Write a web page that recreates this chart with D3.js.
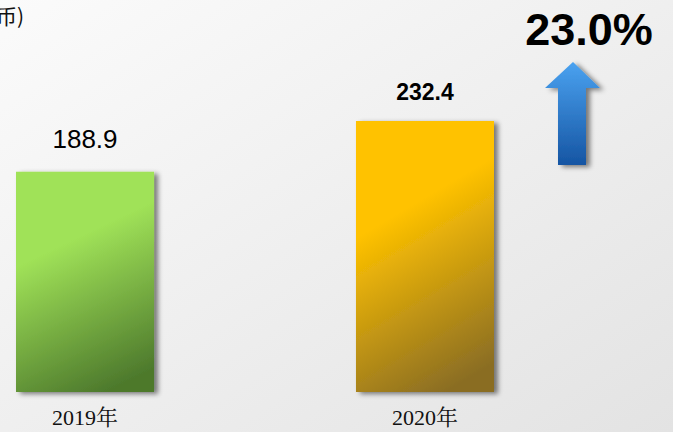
<!DOCTYPE html>
<html>
<head>
<meta charset="utf-8">
<script src="https://cdn.jsdelivr.net/npm/d3@7"></script>
<style>
  body { margin: 0; overflow: hidden; }
  svg { display: block; }
</style>
</head>
<body>
<div id="chart"></div>
<script>
const years = ["2019年", "2020年"];
const values = [188.9, 232.4];
const valueLabels = ["188.9", "232.4"];
const growth = "23.0%";
const unitLabel = "(单位：亿元人民币)";

const width = 673, height = 432;

const svg = d3.select("#chart").append("svg")
  .attr("width", width)
  .attr("height", height);

const defs = svg.append("defs");

const bg = defs.append("linearGradient").attr("id", "bg")
  .attr("x1", "0%").attr("y1", "0%").attr("x2", "100%").attr("y2", "100%");
bg.append("stop").attr("offset", "0%").attr("stop-color", "#fbfbfb");
bg.append("stop").attr("offset", "100%").attr("stop-color", "#e3e3e3");

const barColors = [["#a0e258", "#4d792c"], ["#ffc200", "#8a6d24"]];
barColors.forEach((c, i) => {
  const g = defs.append("linearGradient").attr("id", "bar" + i)
    .attr("x1", "35%").attr("y1", "0%").attr("x2", "65%").attr("y2", "100%");
  g.append("stop").attr("offset", "0%").attr("stop-color", c[0]);
  g.append("stop").attr("offset", "30%").attr("stop-color", c[0]);
  g.append("stop").attr("offset", "100%").attr("stop-color", c[1]);
});

const arrowGrad = defs.append("linearGradient").attr("id", "arrow")
  .attr("x1", "0").attr("y1", "0").attr("x2", "0").attr("y2", "1");
arrowGrad.append("stop").attr("offset", "0%").attr("stop-color", "#4aa2f0");
arrowGrad.append("stop").attr("offset", "100%").attr("stop-color", "#1655a3");

const shadow = defs.append("filter").attr("id", "shadow")
  .attr("x", "-20%").attr("y", "-20%").attr("width", "150%").attr("height", "140%");
shadow.append("feGaussianBlur").attr("in", "SourceAlpha").attr("stdDeviation", 2.5);
shadow.append("feOffset").attr("dx", 4).attr("dy", 2).attr("result", "off");
shadow.append("feComponentTransfer").append("feFuncA").attr("type", "linear").attr("slope", 0.5);
const merge = shadow.append("feMerge");
merge.append("feMergeNode");
merge.append("feMergeNode").attr("in", "SourceGraphic");

svg.append("rect").attr("width", width).attr("height", height).attr("fill", "url(#bg)");

const x = d3.scaleBand()
  .domain(years)
  .range([16, 494])
  .paddingInner(0.594)
  .paddingOuter(0);

const y = d3.scaleLinear()
  .domain([0, 232.4])
  .range([392, 121]);

svg.selectAll(".bar")
  .data(values)
  .join("rect")
  .attr("class", "bar")
  .attr("x", (d, i) => x(years[i]))
  .attr("y", d => y(d))
  .attr("width", x.bandwidth())
  .attr("height", d => y(0) - y(d))
  .attr("fill", (d, i) => `url(#bar${i})`)
  .attr("filter", "url(#shadow)");

svg.selectAll(".val")
  .data(values)
  .join("text")
  .attr("class", "val")
  .attr("x", (d, i) => x(years[i]) + x.bandwidth() / 2)
  .attr("y", (d, i) => y(d) - (i === 1 ? 21 : 24))
  .attr("text-anchor", "middle")
  .attr("font-family", "Liberation Sans, Arial, sans-serif")
  .attr("font-size", (d, i) => i === 1 ? 23 : 26)
  .attr("font-weight", (d, i) => i === 1 ? "bold" : "normal")
  .attr("fill", "#000")
  .text((d, i) => valueLabels[i]);

svg.selectAll(".year")
  .data(years)
  .join("text")
  .attr("class", "year")
  .attr("x", d => x(d) + x.bandwidth() / 2)
  .attr("y", 425)
  .attr("text-anchor", "middle")
  .attr("font-family", "Liberation Serif, Noto Serif CJK SC, serif")
  .attr("font-size", 22)
  .attr("fill", "#111")
  .text(d => d);

svg.append("text")
  .attr("x", 24)
  .attr("y", 24)
  .attr("text-anchor", "end")
  .attr("font-family", "Noto Sans CJK SC, sans-serif")
  .attr("font-size", 21)
  .attr("fill", "#111")
  .text(unitLabel);

svg.append("text")
  .attr("x", 589)
  .attr("y", 45)
  .attr("text-anchor", "middle")
  .attr("font-family", "Liberation Sans, Arial, sans-serif")
  .attr("font-size", 45)
  .attr("font-weight", "bold")
  .attr("fill", "#000")
  .text(growth);

const arrowPath = d3.path();
arrowPath.moveTo(573, 62);
arrowPath.lineTo(600, 88);
arrowPath.lineTo(586, 88);
arrowPath.lineTo(586, 165);
arrowPath.lineTo(558, 165);
arrowPath.lineTo(558, 88);
arrowPath.lineTo(545, 88);
arrowPath.closePath();

svg.append("path")
  .attr("d", arrowPath.toString())
  .attr("fill", "url(#arrow)")
  .attr("filter", "url(#shadow)");
</script>
</body>
</html>
